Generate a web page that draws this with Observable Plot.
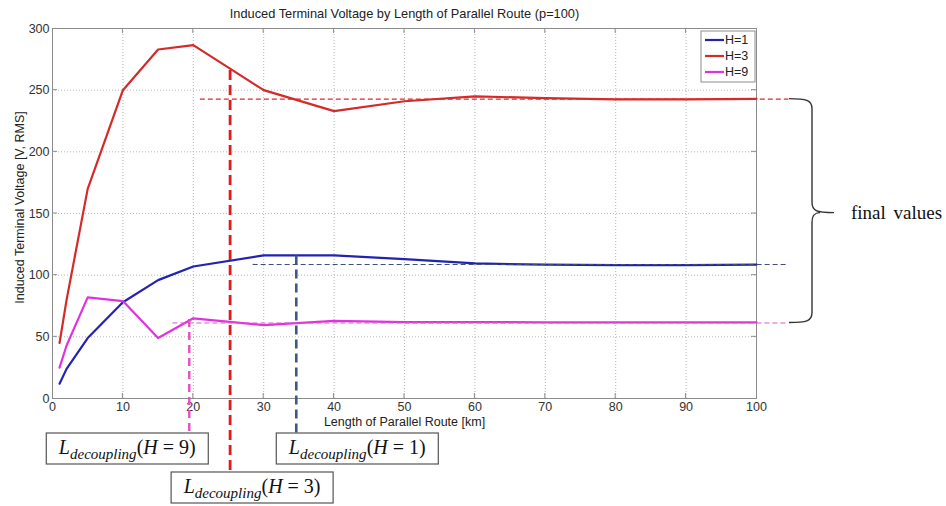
<!DOCTYPE html>
<html><head><meta charset="utf-8">
<script src="https://cdn.jsdelivr.net/npm/d3@7"></script>
<script src="https://cdn.jsdelivr.net/npm/@observablehq/plot@0.6"></script>
<style>body{margin:0;background:#fff} svg{display:block}</style>
</head><body><div id="chart"></div>
<script>
const lengthsKm = [1, 2, 5, 10, 15, 20, 30, 40, 50, 60, 70, 80, 90, 100];
const voltageH1 = [12, 24, 49, 78, 96, 107, 116, 116, 113, 109.5, 108.5, 108.2, 108.2, 108.6];
const voltageH3 = [45, 80, 170, 250, 283, 286.5, 250, 233, 241, 245, 243.5, 242.5, 242.5, 243];
const voltageH9 = [25, 43, 82, 79, 49, 65, 59.5, 63, 62, 62, 61.8, 61.8, 61.8, 61.8];
const seriesNames = ["H=1", "H=3", "H=9"];
const seriesColors = ["#2323b0", "#d42a2a", "#e033e0"];
const finalValues = [108.7, 242.7, 61.2];
const finalStartKm = [28.5, 21, 17.1];
const decouplingKm = [34.7, 25.3, 19.5];
const decouplingTop = [115.5, 266, 64];
const decouplingH = ["1", "3", "9"];
const xTicks = [0, 10, 20, 30, 40, 50, 60, 70, 80, 90, 100];
const yTicks = [0, 50, 100, 150, 200, 250, 300];
const titleText = "Induced Terminal Voltage by Length of Parallel Route (p=100)";
const xLabel = "Length of Parallel Route [km]";
const yLabel = "Induced Terminal Voltage [V, RMS]";
const braceLabel = "final values";

(function () {
const seriesValues = [voltageH1, voltageH3, voltageH9];
const rows = seriesNames.flatMap((s, i) => lengthsKm.map((km, j) => ({series: s, km, v: seriesValues[i][j]})));
const dashColorsV = ["#3d5a85", "#e01b1b", "#e24fbf"];
const dashColorsH = ["#3d4f80", "#e02a2a", "#e055c8"];
const finals = seriesNames.map((s, i) => ({series: s, y: finalValues[i], x1: finalStartKm[i], x2: 104.6, c: dashColorsH[i]}));

const chart = Plot.plot({
  width: 946, height: 506,
  marginLeft: 52, marginRight: 190, marginTop: 28, marginBottom: 108,
  style: {fontFamily: "'Liberation Sans', Arial, sans-serif", fontSize: "12.5px", color: "#333", background: "#fff", overflow: "visible"},
  x: {domain: [0, 100], label: null},
  y: {domain: [0, 300], label: null},
  color: {domain: seriesNames, range: seriesColors},
  marks: [
    Plot.gridX(xTicks, {stroke: "#b5b5b5", strokeOpacity: 1, strokeDasharray: "1,2"}),
    Plot.gridY(yTicks, {stroke: "#b5b5b5", strokeOpacity: 1, strokeDasharray: "1,2"}),
    Plot.frame({stroke: "#8c8c8c"}),
    Plot.axisX(xTicks, {tickSize: 0, tickPadding: 4, label: null, fill: "#333"}),
    Plot.axisY(yTicks, {tickSize: 0, tickPadding: 3, label: null, fill: "#333"}),
    Plot.line(rows, {x: "km", y: "v", z: "series", stroke: "series", strokeWidth: 2.2}),
    Plot.ruleY(finals, {y: "y", x1: "x1", x2: "x2", stroke: "c", strokeWidth: 1.1, strokeDasharray: "5,3", clip: false}),
    Plot.text([titleText], {frameAnchor: "top", lineAnchor: "middle", dy: -15, fontSize: 12.8, fill: "#222"}),
    Plot.text([xLabel], {frameAnchor: "bottom", lineAnchor: "middle", dy: 23, fontSize: 12.5, fill: "#222"}),
    Plot.text([yLabel], {frameAnchor: "left", textAnchor: "middle", lineAnchor: "middle", dx: -33, dy: -6, rotate: -90, fontSize: 12.5, fill: "#222"})
  ]
});
document.getElementById("chart").appendChild(chart);

const sx = chart.scale("x"), sy = chart.scale("y");
const svg = d3.select(chart);
const g = svg.append("g").attr("text-anchor", "start");
const fLeft = sx.apply(0), fRight = sx.apply(100), fTop = sy.apply(300), fBottom = sy.apply(0);

xTicks.slice(1, -1).forEach(t => {
  const x = sx.apply(t);
  g.append("line").attr("x1", x).attr("x2", x).attr("y1", fBottom).attr("y2", fBottom - 5).attr("stroke", "#8c8c8c");
  g.append("line").attr("x1", x).attr("x2", x).attr("y1", fTop).attr("y2", fTop + 5).attr("stroke", "#8c8c8c");
});
yTicks.slice(1, -1).forEach(t => {
  const y = sy.apply(t);
  g.append("line").attr("x1", fLeft).attr("x2", fLeft + 5).attr("y1", y).attr("y2", y).attr("stroke", "#8c8c8c");
  g.append("line").attr("x1", fRight).attr("x2", fRight - 5).attr("y1", y).attr("y2", y).attr("stroke", "#8c8c8c");
});

const lg = g.append("g");
const lgW = 55, lgH = 51;
lg.append("rect").attr("x", fRight - lgW).attr("y", fTop + 3).attr("width", lgW - 1).attr("height", lgH)
  .attr("fill", "#fff").attr("stroke", "#8c8c8c");
seriesNames.forEach((s, i) => {
  const y = fTop + 12 + i * 16;
  lg.append("line").attr("x1", fRight - lgW + 4).attr("x2", fRight - lgW + 23).attr("y1", y).attr("y2", y)
    .attr("stroke", seriesColors[i]).attr("stroke-width", 2.2);
  lg.append("text").attr("x", fRight - lgW + 24).attr("y", y).attr("dy", "0.35em").attr("text-anchor", "start")
    .attr("font-size", 12.5).attr("fill", "#222").text(s);
});

const boxLayout = [
  {dx: -20, top: 35, stroke: 2.6, dash: "9,5"},
  {dx: -59, top: 74, stroke: 2.8, dash: "10,5"},
  {dx: -143, top: 35, stroke: 2.4, dash: "8,5"}
];
const boxW = 162, boxH = 31;
decouplingKm.forEach((km, i) => {
  const x = sx.apply(km);
  const L = boxLayout[i];
  const by = fBottom + L.top;
  g.append("line").attr("x1", x).attr("x2", x).attr("y1", sy.apply(decouplingTop[i])).attr("y2", by)
    .attr("stroke", dashColorsV[i]).attr("stroke-width", L.stroke).attr("stroke-dasharray", L.dash);
  const bx = x + L.dx;
  g.append("rect").attr("x", bx).attr("y", by).attr("width", boxW).attr("height", boxH)
    .attr("fill", "#fff").attr("stroke", "#555").attr("stroke-width", 1.2);
  const t = g.append("text").attr("x", bx + boxW / 2).attr("y", by + 21).attr("text-anchor", "middle")
    .attr("font-family", "'Liberation Serif', 'DejaVu Serif', serif").attr("font-size", 20).attr("fill", "#111");
  t.append("tspan").attr("font-style", "italic").text("L");
  t.append("tspan").attr("font-style", "italic").attr("font-size", 15).attr("dy", 5).text("decoupling");
  t.append("tspan").attr("dy", -5).text("(");
  t.append("tspan").attr("font-style", "italic").text("H");
  t.append("tspan").text(" = " + decouplingH[i] + ")");
});

const bTop = sy.apply(finalValues[1]), bBot = sy.apply(finalValues[2]);
const mid = (bTop + bBot) / 2 + 2, xv = fRight + 56, xh = fRight + 33;
const path = `M${xh},${bTop} C${xv - 6},${bTop} ${xv},${bTop + 1} ${xv},${bTop + 10} L${xv},${mid - 10} C${xv},${mid - 2} ${xv + 4},${mid} ${xv + 22},${mid}` +
  ` M${xv + 8},${mid} C${xv + 2},${mid} ${xv},${mid + 3} ${xv},${mid + 10} L${xv},${bBot - 10} C${xv},${bBot - 1} ${xv - 6},${bBot} ${xh},${bBot}`;
g.append("path").attr("d", path).attr("fill", "none").attr("stroke", "#333").attr("stroke-width", 1.4);
g.append("text").attr("x", fRight + 95).attr("y", mid + 6).attr("text-anchor", "start").attr("font-family", "'Liberation Serif', serif")
  .attr("font-size", 19).attr("fill", "#111").attr("word-spacing", "3px").text(braceLabel);
})();
</script>
</body></html>
